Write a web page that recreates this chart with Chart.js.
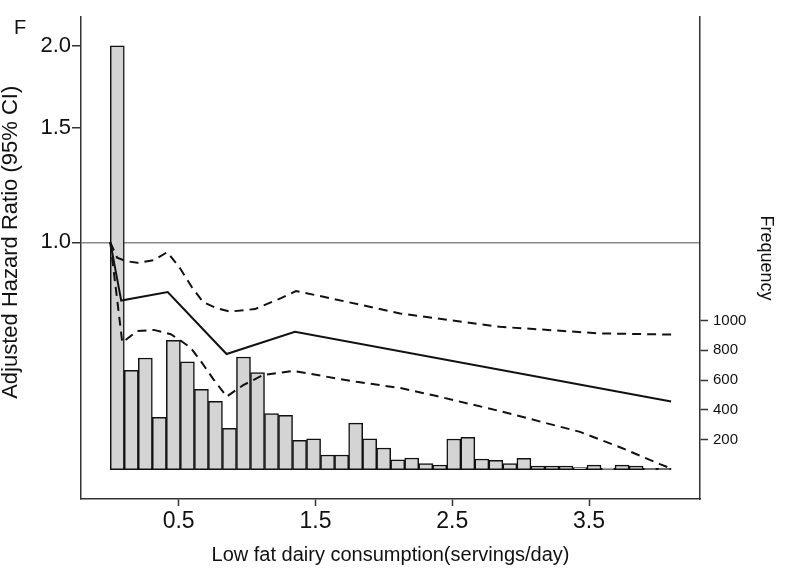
<!DOCTYPE html>
<html>
<head>
<meta charset="utf-8">
<script src="https://cdn.jsdelivr.net/npm/chart.js@4.4.1/dist/chart.umd.min.js"></script>
<style>
  html, body { margin: 0; padding: 0; background: #fff; }
  #wrap { position: relative; width: 800px; height: 584px; }
  #panel { position: absolute; left: 14px; top: 17px; font-family: "Liberation Sans", Arial, sans-serif; font-size: 20px; line-height: 1; color: #111; }
</style>
</head>
<body>
<div id="wrap">
  <canvas id="hrChart" width="800" height="584"></canvas>
  <div id="panel">F</div>
</div>
<script>
// Histogram of intake (right axis) + spline hazard ratio with 95% CI (left, log axis)
const binWidth = 0.1025;
const frequency = [2840, 666, 748, 351, 867, 723, 538, 458, 277, 755,
  650, 375, 364, 196, 207, 98, 98, 312, 207, 145,
  66, 78, 40, 31, 205, 217, 71, 62, 40, 76,
  23, 23, 23, 13, 30, 10, 30, 23, 8, 8];

const estX = [0, 0.08, 0.42, 0.85, 1.35, 4.1];
const estHR = [1.0, 0.814, 0.839, 0.674, 0.729, 0.570];

const upperX = [0, 0.05, 0.115, 0.197, 0.319, 0.417, 0.509, 0.599, 0.678, 0.773, 0.875, 1.058, 1.248, 1.357, 1.606, 2.118, 2.849, 3.58, 4.1];
const upperHR = [1.0, 0.947, 0.936, 0.930, 0.939, 0.966, 0.913, 0.852, 0.810, 0.793, 0.783, 0.790, 0.821, 0.842, 0.821, 0.778, 0.742, 0.725, 0.722];

const lowerX = [0, 0.088, 0.197, 0.319, 0.442, 0.509, 0.588, 0.656, 0.753, 0.851, 0.972, 1.118, 1.336, 1.801, 2.118, 2.386, 2.849, 3.434, 3.726, 4.018, 4.1];
const lowerHR = [1.0, 0.702, 0.731, 0.734, 0.723, 0.708, 0.689, 0.660, 0.617, 0.580, 0.604, 0.626, 0.635, 0.611, 0.598, 0.581, 0.551, 0.512, 0.485, 0.457, 0.450];

const xTicks = [0.5, 1.5, 2.5, 3.5];
const hrTicks = [1.0, 1.5, 2.0];
const freqTicks = [200, 400, 600, 800, 1000];

Chart.defaults.font.family = '"Liberation Sans", Arial, sans-serif';
Chart.defaults.color = '#111';

const zip = (xs, ys) => xs.map((x, i) => ({ x: x, y: ys[i] }));
const bins = frequency.map((f, i) => ({ x: (i + 0.5) * binWidth, y: f }));
const axisColor = '#333';

// left axis title, centred on the HR = 1 line like the original figure
const hrTitle = {
  id: 'hrTitle',
  afterDraw(chart) {
    const ctx = chart.ctx;
    const yMid = chart.scales.y.getPixelForValue(1);
    ctx.save();
    ctx.font = '22px "Liberation Sans", Arial, sans-serif';
    ctx.fillStyle = '#111';
    ctx.textAlign = 'center';
    ctx.textBaseline = 'middle';
    ctx.translate(11, yMid);
    ctx.rotate(-Math.PI / 2);
    ctx.fillText('Adjusted Hazard Ratio (95% CI)', 0, 0);
    ctx.restore();
  }
};

const lineStyle = {
  type: 'line',
  yAxisID: 'y',
  borderColor: '#111',
  borderWidth: 2,
  pointRadius: 0,
  fill: false,
  tension: 0,
  order: 1
};

new Chart(document.getElementById('hrChart'), {
  type: 'bar',
  data: {
    datasets: [
      Object.assign({}, lineStyle, { label: 'HR', data: zip(estX, estHR) }),
      Object.assign({}, lineStyle, { label: 'Upper 95% CI', data: zip(upperX, upperHR), borderDash: [9, 6] }),
      Object.assign({}, lineStyle, { label: 'Lower 95% CI', data: zip(lowerX, lowerHR), borderDash: [9, 6] }),
      {
        type: 'bar',
        label: 'Frequency',
        data: bins,
        yAxisID: 'y1',
        backgroundColor: '#d4d4d4',
        borderColor: '#111',
        borderWidth: 1.5,
        borderSkipped: false,
        barPercentage: 1,
        categoryPercentage: 1,
        order: 2
      }
    ]
  },
  plugins: [hrTitle],
  options: {
    responsive: false,
    animation: false,
    layout: { padding: { top: 17, left: 0, right: 0, bottom: 0 } },
    plugins: { legend: { display: false }, tooltip: { enabled: false } },
    scales: {
      x: {
        type: 'linear',
        min: -0.214,
        max: 4.311,
        offset: false,
        afterBuildTicks: s => { s.ticks = xTicks.map(v => ({ value: v })); },
        afterFit: s => { s.height = 85; },
        ticks: { callback: v => Number(v).toFixed(1), font: { size: 23 }, padding: 2, maxRotation: 0, autoSkip: false },
        grid: { offset: false, drawOnChartArea: false, tickLength: 7, tickColor: axisColor, tickWidth: 1.5 },
        border: { color: axisColor, width: 1.5 },
        title: { display: true, text: 'Low fat dairy consumption(servings/day)', font: { size: 20, lineHeight: 1 }, padding: { top: 0, bottom: 19 } }
      },
      y: {
        type: 'logarithmic',
        position: 'left',
        min: 0.404,
        max: 2.2155,
        z: 1,
        afterBuildTicks: s => { s.ticks = hrTicks.map(v => ({ value: v })); },
        afterFit: s => { s.width = 81; },
        ticks: { callback: v => Number(v).toFixed(1), font: { size: 22 }, padding: 1 },
        grid: {
          drawOnChartArea: true,
          color: c => (c.tick && c.tick.value === 1) ? '#8a8a8a' : 'rgba(0,0,0,0)',
          lineWidth: 1.5,
          tickLength: 9,
          tickColor: axisColor,
          tickWidth: 1.5
        },
        border: { color: axisColor, width: 1.5 },
        title: { display: false }
      },
      y1: {
        type: 'linear',
        position: 'right',
        min: -197,
        max: 3034,
        afterBuildTicks: s => { s.ticks = freqTicks.map(v => ({ value: v })); },
        afterFit: s => { s.width = 100; },
        ticks: { callback: v => String(v), font: { size: 15 }, padding: 5 },
        grid: { drawOnChartArea: false, tickLength: 8, tickColor: axisColor, tickWidth: 1.5 },
        border: { color: axisColor, width: 1.5 },
        title: { display: true, text: 'Frequency', font: { size: 18, lineHeight: 1 }, padding: { top: 25, bottom: 0 } }
      }
    }
  }
});
</script>
</body>
</html>
